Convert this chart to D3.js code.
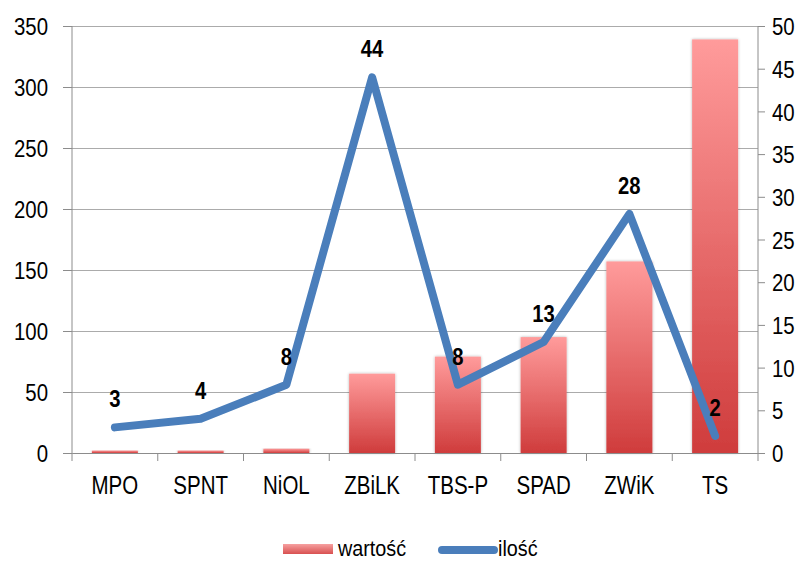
<!DOCTYPE html>
<html>
<head>
<meta charset="utf-8">
<script src="https://cdn.jsdelivr.net/npm/d3@7"></script>
<style>
  body { margin: 0; background: #fff; }
  svg text { font-family: "Liberation Sans", Arial, sans-serif; fill: #000; transform-box: fill-box; }
  .nl { transform-origin: right center; transform: scaleX(0.85); }
  .nr { transform-origin: left center; transform: scaleX(0.85); }
  .nc { transform-origin: center center; transform: scaleX(0.82); }
  .nv { transform-origin: center center; transform: scaleX(0.88); }
  .ng { transform-origin: left center; transform: scaleX(0.9); }
</style>
</head>
<body>
<svg width="808" height="562"></svg>
<script>
const categories = ['MPO', 'SPNT', 'NiOL', 'ZBiLK', 'TBS-P', 'SPAD', 'ZWiK', 'TS'];
const wartosc = [2, 2, 3.5, 65, 79, 95, 157, 339];
const ilosc = [3, 4, 8, 44, 8, 13, 28, 2];
const leftTicks = [0, 50, 100, 150, 200, 250, 300, 350];
const rightTicks = [0, 5, 10, 15, 20, 25, 30, 35, 40, 45, 50];

const plotLeft = 72, plotRight = 758, plotTop = 26, plotBottom = 453;

const svg = d3.select('svg');

const defs = svg.append('defs');
const grad = defs.append('linearGradient')
    .attr('id', 'barGrad').attr('x1', 0).attr('y1', 0).attr('x2', 0).attr('y2', 1);
grad.append('stop').attr('offset', '0%').attr('stop-color', '#ff9b9b');
grad.append('stop').attr('offset', '100%').attr('stop-color', '#cf3c3c');
const lgrad = defs.append('linearGradient')
    .attr('id', 'legGrad').attr('x1', 0).attr('y1', 0).attr('x2', 0).attr('y2', 1);
lgrad.append('stop').attr('offset', '0%').attr('stop-color', '#f6a0a0');
lgrad.append('stop').attr('offset', '100%').attr('stop-color', '#d85050');
const shadow = defs.append('filter').attr('id', 'shadow')
    .attr('x', '-20%').attr('y', '-5%').attr('width', '140%').attr('height', '110%');
shadow.append('feGaussianBlur').attr('in', 'SourceAlpha').attr('stdDeviation', 1.5);
shadow.append('feComponentTransfer').append('feFuncA').attr('type', 'linear').attr('slope', 0.3);
const merge = shadow.append('feMerge');
merge.append('feMergeNode');
merge.append('feMergeNode').attr('in', 'SourceGraphic');

const x = d3.scaleBand().domain(categories).range([plotLeft, plotRight]).paddingInner(0).paddingOuter(0);
const yL = d3.scaleLinear().domain([0, 350]).range([plotBottom, plotTop]);
const yR = d3.scaleLinear().domain([0, 50]).range([plotBottom, plotTop]);

// gridlines
svg.append('g')
    .attr('transform', `translate(${plotLeft},0)`)
    .call(d3.axisLeft(yL).tickValues(leftTicks).tickSize(-(plotRight - plotLeft)).tickFormat(''))
    .call(g => g.select('.domain').remove())
    .call(g => g.selectAll('line').attr('stroke', '#ababab').attr('stroke-width', 1));

// bars
const barW = 46;
svg.append('g').selectAll('rect')
    .data(categories)
    .join('rect')
    .attr('x', (d) => x(d) + x.bandwidth() / 2 - barW / 2)
    .attr('y', (d, i) => yL(wartosc[i]))
    .attr('width', barW)
    .attr('height', (d, i) => plotBottom - yL(wartosc[i]))
    .attr('fill', 'url(#barGrad)')
    .attr('filter', 'url(#shadow)');

// left axis
svg.append('g')
    .attr('transform', `translate(${plotLeft},0)`)
    .call(d3.axisLeft(yL).tickValues(leftTicks).tickSize(9).tickPadding(15))
    .call(g => g.select('.domain').attr('stroke', '#8c8c8c').attr('d', `M0,${plotTop}V${plotBottom}`))
    .call(g => g.selectAll('line').attr('stroke', '#8c8c8c'))
    .call(g => g.selectAll('text').attr('font-size', 24).attr('font-family', null)
        .attr('dy', '0.36em').attr('class', 'nl'));

// right axis
svg.append('g')
    .attr('transform', `translate(${plotRight},0)`)
    .call(d3.axisRight(yR).tickValues(rightTicks).tickSize(7).tickPadding(7))
    .call(g => g.select('.domain').attr('stroke', '#8c8c8c').attr('d', `M0,${plotTop}V${plotBottom}`))
    .call(g => g.selectAll('line').attr('stroke', '#8c8c8c'))
    .call(g => g.selectAll('text').attr('font-size', 24).attr('font-family', null)
        .attr('dy', '0.36em').attr('class', 'nr'));

// bottom axis
const xAxis = svg.append('g')
    .attr('transform', `translate(0,${plotBottom})`)
    .call(d3.axisBottom(x).tickSize(0).tickPadding(23))
    .call(g => g.select('.domain').attr('stroke', '#8c8c8c'))
    .call(g => g.selectAll('text').attr('font-size', 25).attr('font-family', null).attr('class', 'nc'));
xAxis.selectAll('.sep')
    .data(categories.concat(['end']))
    .join('line')
    .attr('x1', (d, i) => i < categories.length ? x(d) : plotRight)
    .attr('x2', (d, i) => i < categories.length ? x(d) : plotRight)
    .attr('y1', 0).attr('y2', 8)
    .attr('stroke', '#8c8c8c');

// line
const pts = categories.map((c, i) => [x(c) + x.bandwidth() / 2, yR(ilosc[i])]);
svg.append('path')
    .attr('d', d3.line()(pts))
    .attr('fill', 'none')
    .attr('stroke', '#4a7ebb')
    .attr('stroke-width', 8)
    .attr('stroke-linejoin', 'round')
    .attr('stroke-linecap', 'round');

// value labels
svg.append('g').selectAll('text')
    .data(ilosc)
    .join('text')
    .attr('class', 'nv')
    .attr('x', (d, i) => pts[i][0])
    .attr('y', (d, i) => pts[i][1] - 20)
    .attr('text-anchor', 'middle')
    .attr('font-size', 23)
    .attr('font-weight', 'bold')
    .text((d) => d);

// legend
const leg = svg.append('g');
leg.append('rect').attr('x', 283).attr('y', 544).attr('width', 50).attr('height', 10)
    .attr('fill', 'url(#legGrad)');
leg.append('text').attr('class', 'ng').attr('x', 338).attr('y', 556).attr('font-size', 22).text('wartość');
leg.append('line').attr('x1', 442).attr('x2', 494).attr('y1', 550).attr('y2', 550)
    .attr('stroke', '#4a7ebb').attr('stroke-width', 8).attr('stroke-linecap', 'round');
leg.append('text').attr('class', 'ng').attr('x', 498).attr('y', 556).attr('font-size', 22).text('ilość');
</script>
</body>
</html>
